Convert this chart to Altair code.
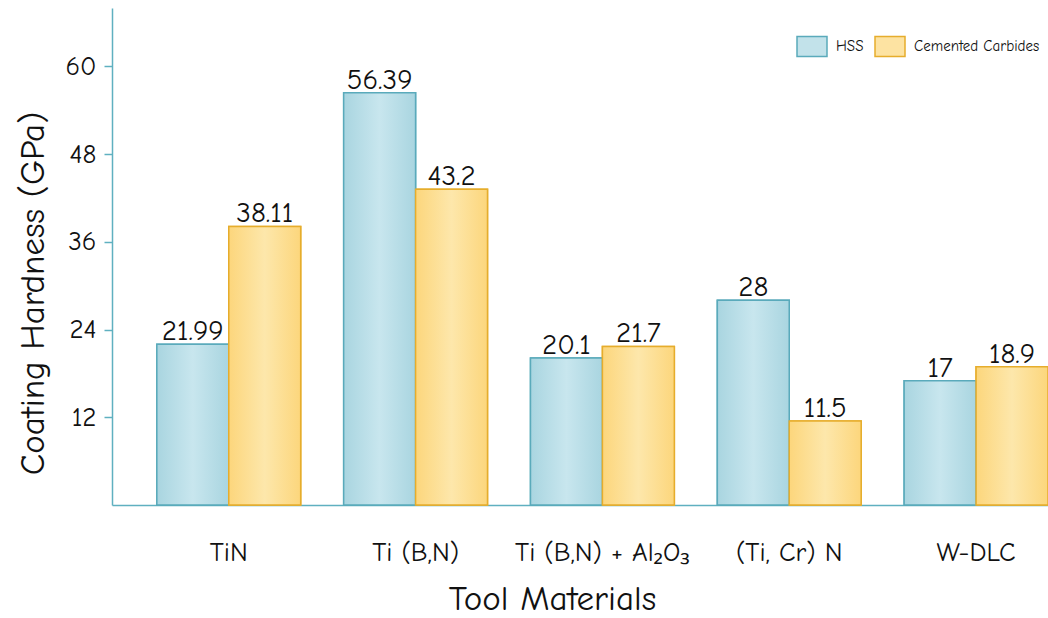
import altair as alt
import pandas as pd

# Coating hardness by tool material and substrate
materials = ["TiN", "Ti (B,N)", "Ti (B,N) + Al\u2082O\u2083", "(Ti, Cr) N", "W-DLC"]
series = ["HSS", "Cemented Carbides"]
hss = [21.99, 56.39, 20.1, 28, 17]
carbides = [38.11, 43.2, 21.7, 11.5, 18.9]

rows = []
for m, h, c in zip(materials, hss, carbides):
    rows.append({"material": m, "series": series[0], "value": h})
    rows.append({"material": m, "series": series[1], "value": c})
df = pd.DataFrame(rows)

FONT = "Comic Sans MS, Comic Neue, Open Sans, sans-serif"
AXIS_COLOR = "#5fb0c0"

fills = ["#c2e2ea", "#fde3a2"]
strokes = ["#5aaabb", "#e6ad2c"]


def hgrad(edge, mid):
    return alt.LinearGradient(
        gradient="linear", x1=0, x2=1, y1=0, y2=0,
        stops=[
            alt.GradientStop(offset=0, color=edge),
            alt.GradientStop(offset=0.5, color=mid),
            alt.GradientStop(offset=1, color=edge),
        ],
    )


grad_hss = hgrad("#a9d5e0", "#c8e6ee")
grad_cc = hgrad("#fcd67c", "#fde7ab")

x_enc = alt.X(
    "material:N",
    sort=materials,
    scale=alt.Scale(paddingInner=0.23, paddingOuter=0.12, align=1),
    axis=alt.Axis(
        title="Tool Materials", labelAngle=0, ticks=False,
        labelPadding=34, titlePadding=16, titleX=440,
    ),
)
xoff = alt.XOffset("series:N", sort=series, scale=alt.Scale(domain=series, paddingInner=0))
y_enc = alt.Y(
    "value:Q",
    scale=alt.Scale(domain=[0, 68], nice=False),
    axis=alt.Axis(
        title="Coating Hardness (GPa)", values=[12, 24, 36, 48, 60],
        grid=False, tickSize=8, labelPadding=8, titlePadding=14, titleY=285,
    ),
)

base = alt.Chart(df).encode(x=x_enc, xOffset=xoff, y=y_enc)

legend_bars = base.mark_bar(strokeWidth=1.5).encode(
    fill=alt.Fill(
        "series:N", sort=series,
        scale=alt.Scale(domain=series, range=fills),
        legend=alt.Legend(
            title=None, orient="none", direction="horizontal",
            legendX=684, legendY=22,
            symbolType="M-1,-0.667H1V0.667H-1Z", symbolSize=900,
            symbolStrokeWidth=1.5, labelFontSize=15, labelFont=FONT,
            columnPadding=8, labelOffset=8,
        ),
    ),
    stroke=alt.Stroke(
        "series:N", sort=series,
        scale=alt.Scale(domain=series, range=strokes),
        legend=None,
    ),
)

grad_bars = base.mark_bar(strokeWidth=1.5).encode(
    fill=alt.condition(
        alt.datum.series == "HSS", alt.value(grad_hss), alt.value(grad_cc)
    ),
    stroke=alt.condition(
        alt.datum.series == "HSS", alt.value(strokes[0]), alt.value(strokes[1])
    ),
)

labels = base.mark_text(
    baseline="bottom", dy=2, fontSize=29, font=FONT, color="#111111"
).encode(text=alt.Text("value:N"))

chart = (
    alt.layer(legend_bars, grad_bars, labels)
    .properties(
        width=936, height=497,
        autosize=alt.AutoSizeParams(type="none"),
        padding={"left": 112, "top": 8, "right": 0, "bottom": 113},
    )
    .configure_view(stroke=None)
    .configure_axis(
        domainColor=AXIS_COLOR, tickColor=AXIS_COLOR, domainWidth=1.5,
        tickWidth=1.5, labelFont=FONT, titleFont=FONT, labelFontSize=27,
        titleFontSize=35, labelColor="#111111", titleColor="#111111",
        titleFontWeight="normal",
    )
    .configure_legend(labelColor="#111111")
)

chart.save("out.html", embed_options={"renderer": "svg", "actions": False})
